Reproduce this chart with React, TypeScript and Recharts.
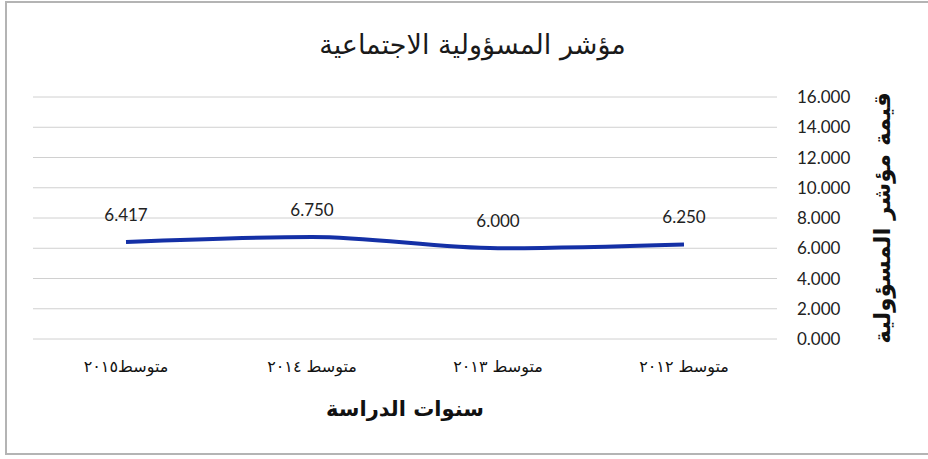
import React from 'react';
import { LineChart, Line, XAxis, YAxis, CartesianGrid, LabelList, Label } from 'recharts';

const categories = ['متوسط  ٢٠١٢', 'متوسط  ٢٠١٣', 'متوسط ٢٠١٤', 'متوسط٢٠١٥'];
const values = [6.25, 6.0, 6.75, 6.417];
const yTicks = [0, 2, 4, 6, 8, 10, 12, 14, 16];
const title = 'مؤشر المسؤولية الاجتماعية';
const xTitle = 'سنوات الدراسة';
const yTitle = 'قيمة مؤشر المسؤولية';

const data = categories.map((c, i) => ({ name: c, value: values[i] }));

const numFont = 'Lato, "Open Sans", sans-serif';
const arFont = '"DejaVu Sans", sans-serif';

export default function App() {
  return (
    <div style={{ position: 'absolute', left: 0, top: 0, width: 928, height: 459, background: '#fff', overflow: 'hidden' }}>
      <div
        style={{
          position: 'absolute',
          left: 5,
          top: 1,
          width: 940,
          height: 454,
          border: '2px solid #b4b4b4',
          boxSizing: 'border-box',
        }}
      />
      <div
        style={{
          position: 'absolute',
          left: 5,
          top: 27,
          width: 935,
          textAlign: 'center',
          fontFamily: arFont,
          fontSize: 27,
          lineHeight: '36px',
          color: '#1a1a1a',
          direction: 'rtl',
        }}
      >
        {title}
      </div>
      <div style={{ position: 'absolute', left: 0, top: 0 }}>
        <LineChart width={928} height={459} data={data} margin={{ top: 97, right: 21, bottom: 30, left: 33 }}>
          <CartesianGrid vertical={false} stroke="#d0d0d0" strokeWidth={1} />
          <XAxis
            dataKey="name"
            scale="band"
            reversed
            axisLine={false}
            tickLine={false}
            tickSize={0}
            tickMargin={22}
            height={90}
            interval={0}
            tick={{ fontFamily: arFont, fontSize: 16, fill: '#111' }}
          >
            <Label
              content={({ viewBox }: any) => (
                <text
                  x={viewBox.x + viewBox.width / 2}
                  y={viewBox.y + 71}
                  textAnchor="middle"
                  dominantBaseline="middle"
                  fontFamily={arFont}
                  fontSize={21}
                  fontWeight="bold"
                  fill="#111"
                  direction="rtl"
                >
                  {xTitle}
                </text>
              )}
            />
          </XAxis>
          <YAxis
            orientation="right"
            domain={[0, 16]}
            ticks={yTicks}
            axisLine={false}
            tickLine={false}
            tickSize={0}
            tickMargin={20}
            width={130}
            tickFormatter={(v: number) => v.toFixed(3)}
            tick={{ fontFamily: numFont, fontSize: 17, fill: '#222', textAnchor: 'start' }}
          >
            <Label
              content={({ viewBox }: any) => {
                const cx = viewBox.x + 106;
                const cy = viewBox.y + viewBox.height / 2;
                return (
                  <text
                    x={cx}
                    y={cy}
                    textAnchor="middle"
                    dominantBaseline="middle"
                    transform={`rotate(-90, ${cx}, ${cy})`}
                    fontFamily={arFont}
                    fontSize={23}
                    fontWeight="bold"
                    fill="#111"
                    direction="rtl"
                  >
                    {yTitle}
                  </text>
                );
              }}
            />
          </YAxis>
          <Line
            type="monotone"
            dataKey="value"
            stroke="#1430a6"
            strokeWidth={4}
            dot={false}
            activeDot={false}
            isAnimationActive={false}
          >
            <LabelList
              dataKey="value"
              position="top"
              offset={21}
              formatter={(v: number) => v.toFixed(3)}
              style={{ fontFamily: numFont, fontSize: 17, fill: '#222' }}
            />
          </Line>
        </LineChart>
      </div>
    </div>
  );
}
